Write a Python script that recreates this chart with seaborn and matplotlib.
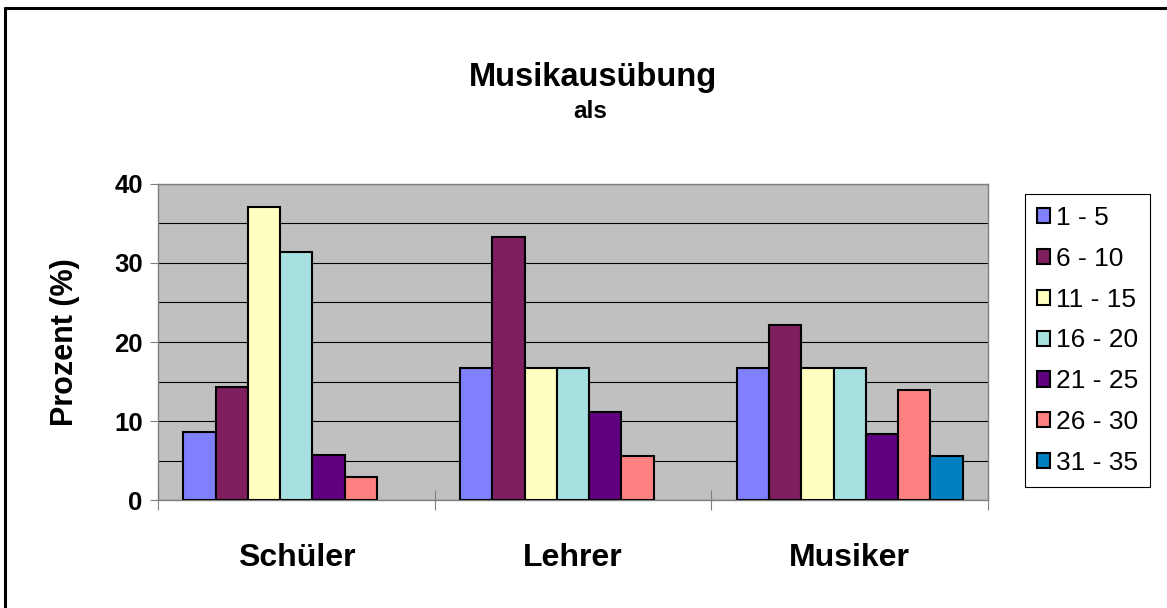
import numpy as np
import pandas as pd
import matplotlib
matplotlib.use('Agg')
import matplotlib.pyplot as plt
import seaborn as sns
from matplotlib.lines import Line2D

########## data ##########
gruppen = ['Schüler', 'Lehrer', 'Musiker']
alter = ['1 - 5', '6 - 10', '11 - 15', '16 - 20', '21 - 25', '26 - 30', '31 - 35']
schueler = [8.6, 14.3, 37.1, 31.4, 5.7, 2.9, None]
lehrer = [16.7, 33.3, 16.7, 16.7, 11.1, 5.6, None]
musiker = [16.7, 22.2, 16.7, 16.7, 8.3, 13.9, 5.6]
farben = ['#8080FF', '#7F1F5F', '#FFFFC0', '#A6E0E0', '#600080', '#FF8080', '#0080C0']
yticks = [0, 10, 20, 30, 40]

rows = []
for g, werte in zip(gruppen, [schueler, lehrer, musiker]):
    for a, v in zip(alter, werte):
        if v is not None:
            rows.append({'Gruppe': g, 'Alter': a, 'Prozent': v})
df = pd.DataFrame(rows)

########## plot ##########
sns.set_style('white')
plt.rcParams['font.family'] = ['Liberation Sans', 'DejaVu Sans']
plt.rcParams['text.color'] = 'black'
plt.rcParams['xtick.labelcolor'] = 'black'
plt.rcParams['ytick.labelcolor'] = 'black'
plt.rcParams['axes.labelcolor'] = 'black'

fig = plt.figure(figsize=(11.67, 6.08), dpi=100)
ax = fig.add_axes([0.1354, 0.1776, 0.7112, 0.5198])
ax.set_facecolor('#C0C0C0')

sns.barplot(data=df, x='Gruppe', y='Prozent', hue='Alter', order=gruppen, hue_order=alter,
            palette=dict(zip(alter, farben)), width=0.816, edgecolor='black', linewidth=1.5,
            saturation=1, ax=ax, legend=True, zorder=3)

ax.set_xlim(-0.5, 2.5)
ax.set_ylim(0, 40)
ax.set_yticks(yticks)
ax.set_yticklabels([str(t) for t in yticks], fontsize=18.5, fontweight='bold')
ax.set_yticks(np.arange(0, 41, 5), minor=True)
ax.grid(True, axis='y', which='both', color='black', linewidth=0.8, zorder=0)
ax.set_axisbelow(True)
ax.tick_params(axis='y', which='major', direction='out', length=6, width=0.8, color='#808080', pad=5, left=True)
ax.tick_params(axis='y', which='minor', length=0)

ax.set_xticks(range(len(gruppen)))
ax.set_xticklabels(gruppen, fontsize=23, fontweight='bold')
ax.tick_params(axis='x', which='major', length=0, pad=31)
ax.set_xticks([-0.5, 0.5, 1.5, 2.5], minor=True)
ax.tick_params(axis='x', which='minor', direction='inout', length=14, width=0.8, color='#808080', bottom=True)
ax.set_xlabel('')
ax.set_ylabel('Prozent (%)', fontsize=22, fontweight='bold')
ax.yaxis.set_label_coords(-0.094, 0.5)

for s in ax.spines.values():
    s.set_visible(True)
    s.set_color('#808080')
    s.set_linewidth(1.0)

# legend
handles, labels = ax.get_legend_handles_labels()
ax.get_legend().remove()
leg = fig.legend(handles, labels, loc='upper left', bbox_to_anchor=(0.878, 0.681),
                 fontsize=19, frameon=True, fancybox=False, framealpha=1,
                 edgecolor='black', handlelength=0.5, handleheight=0.5,
                 handletextpad=0.25, labelspacing=0.64, borderpad=0.45, borderaxespad=0)
leg.get_frame().set_linewidth(0.8)

# titles
fig.text(0.508, 0.859, 'Musikausübung', ha='center', va='baseline', fontsize=23.5, fontweight='bold')
fig.text(0.506, 0.806, 'als', ha='center', va='baseline', fontsize=17.5, fontweight='bold')

# outer frame (top + left)
fig.add_artist(Line2D([0.004, 0.004], [0.0, 0.987], color='black', linewidth=2.2, transform=fig.transFigure))
fig.add_artist(Line2D([0.004, 1.0], [0.987, 0.987], color='black', linewidth=2.2, transform=fig.transFigure))

fig.savefig('out.png', dpi=100, facecolor='white')
